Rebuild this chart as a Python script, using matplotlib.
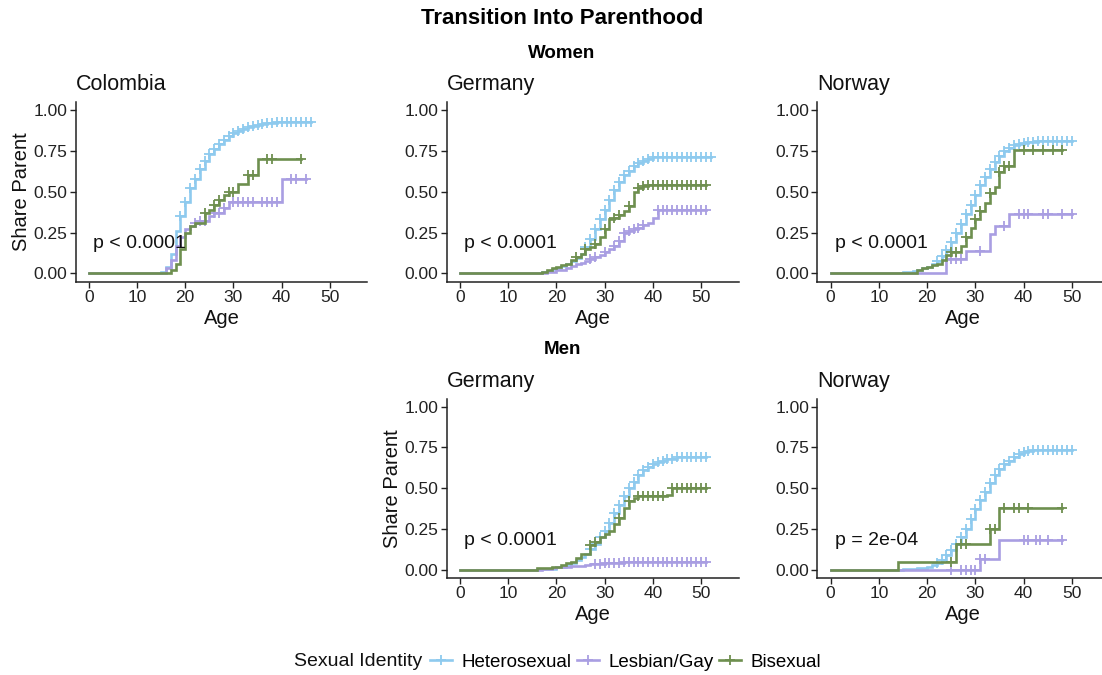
import numpy as np
import matplotlib
matplotlib.use("Agg")
import matplotlib.pyplot as plt
from matplotlib.lines import Line2D

plt.rcParams['font.family'] = ['Liberation Sans', 'DejaVu Sans']

# ---- colours / groups ----
groups = ["Heterosexual", "Lesbian/Gay", "Bisexual"]
colors = {"Heterosexual": "#8ECAEE", "Lesbian/Gay": "#A99EE2", "Bisexual": "#6E8F4F"}

# ---- Women, Colombia ----
col_w_het_t = [15, 16, 17, 18, 19, 20, 21, 22, 23, 24, 25, 26, 27, 28, 29, 30, 31, 32, 33, 34, 35, 36, 37, 39, 41]
col_w_het_v = [0.01, 0.04, 0.12, 0.26, 0.35, 0.44, 0.52, 0.58, 0.64, 0.69, 0.73, 0.76, 0.79, 0.82, 0.84, 0.86,
               0.87, 0.885, 0.895, 0.905, 0.91, 0.915, 0.92, 0.925, 0.93]
col_w_het_c = list(range(19, 47))
col_w_lg_t = [16, 17, 18, 19, 20, 21, 22, 23, 25, 26, 28, 29, 40]
col_w_lg_v = [0.03, 0.08, 0.17, 0.22, 0.27, 0.29, 0.31, 0.32, 0.35, 0.37, 0.40, 0.44, 0.58]
col_w_lg_c = [22, 23, 24, 26, 27, 28, 30, 31, 32, 33, 34, 36, 37, 38, 39, 42, 43, 45]
col_w_bi_t = [17, 18, 19, 20, 21, 22, 24, 25, 26, 27, 28, 29, 31, 33, 35]
col_w_bi_v = [0.02, 0.06, 0.15, 0.25, 0.29, 0.31, 0.37, 0.39, 0.42, 0.45, 0.48, 0.50, 0.55, 0.60, 0.70]
col_w_bi_c = [24, 26, 27, 29, 30, 33, 34, 37, 38, 44]

# ---- Women, Germany ----
ger_w_het_t = [15, 17, 18, 19, 20, 21, 22, 23, 24, 25, 26, 27, 28, 29, 30, 31, 32, 33, 34, 35, 36, 37, 38, 39, 40, 42]
ger_w_het_v = [0.003, 0.008, 0.015, 0.025, 0.035, 0.045, 0.06, 0.075, 0.095, 0.12, 0.16, 0.21, 0.27, 0.33, 0.39,
               0.45, 0.51, 0.56, 0.60, 0.63, 0.655, 0.675, 0.69, 0.70, 0.71, 0.715]
ger_w_het_c = list(range(26, 53))
ger_w_lg_t = [16, 18, 20, 22, 23, 24, 25, 26, 27, 28, 29, 30, 31, 32, 33, 34, 35, 36, 37, 38, 39, 40, 41]
ger_w_lg_v = [0.005, 0.01, 0.02, 0.035, 0.045, 0.055, 0.065, 0.075, 0.09, 0.10, 0.115, 0.13, 0.15, 0.17, 0.20,
              0.245, 0.26, 0.27, 0.28, 0.295, 0.31, 0.34, 0.39]
ger_w_lg_c = [27, 28, 30, 32, 33, 34, 35, 36, 37, 38] + list(range(41, 52))
ger_w_bi_t = [15, 17, 18, 19, 20, 21, 22, 23, 24, 25, 26, 27, 28, 29, 30, 31, 32, 33, 34, 35, 36, 37, 38, 39]
ger_w_bi_v = [0.005, 0.01, 0.02, 0.03, 0.04, 0.05, 0.06, 0.08, 0.10, 0.12, 0.15, 0.16, 0.18, 0.22, 0.27, 0.33,
              0.34, 0.36, 0.38, 0.41, 0.50, 0.52, 0.535, 0.54]
ger_w_bi_c = [24, 26, 28, 30, 32, 33, 35, 37, 38] + list(range(39, 52))

# ---- Women, Norway ----
nor_w_het_t = [14, 15, 16, 17, 18, 19, 20, 21, 22, 23, 24, 25, 26, 27, 28, 29, 30, 31, 32, 33, 34, 35, 36, 37,
               38, 39, 40, 41, 43]
nor_w_het_v = [0.003, 0.006, 0.01, 0.015, 0.02, 0.03, 0.04, 0.055, 0.075, 0.105, 0.145, 0.195, 0.25, 0.305,
               0.365, 0.42, 0.48, 0.54, 0.59, 0.64, 0.68, 0.72, 0.75, 0.77, 0.785, 0.795, 0.80, 0.805, 0.81]
nor_w_het_c = list(range(22, 51))
nor_w_lg_t = [24, 28, 33, 34, 37]
nor_w_lg_v = [0.085, 0.135, 0.24, 0.29, 0.365]
nor_w_lg_c = [25, 26, 27, 31, 36, 39, 40, 41, 44, 45, 48, 50]
nor_w_bi_t = [17, 18, 19, 20, 21, 22, 23, 24, 25, 27, 28, 29, 30, 31, 32, 33, 34, 35, 36, 38]
nor_w_bi_v = [0.005, 0.02, 0.03, 0.04, 0.05, 0.06, 0.08, 0.11, 0.13, 0.17, 0.22, 0.28, 0.33, 0.38, 0.43, 0.49,
              0.53, 0.62, 0.66, 0.755]
nor_w_bi_c = [25, 26, 28, 30, 31, 33, 35, 36, 37, 40, 42, 44, 46, 48]

# ---- Men, Germany ----
ger_m_het_t = [16, 18, 20, 21, 22, 23, 24, 25, 26, 27, 28, 29, 30, 31, 32, 33, 34, 35, 36, 37, 38, 39, 40, 41,
               42, 43, 45]
ger_m_het_v = [0.003, 0.008, 0.015, 0.02, 0.03, 0.04, 0.06, 0.08, 0.10, 0.13, 0.16, 0.20, 0.24, 0.29, 0.35, 0.40,
               0.45, 0.50, 0.54, 0.58, 0.61, 0.63, 0.65, 0.66, 0.67, 0.68, 0.69]
ger_m_het_c = list(range(27, 52))
ger_m_lg_t = [17, 19, 20, 21, 23, 26, 27, 30, 34, 37]
ger_m_lg_v = [0.005, 0.01, 0.015, 0.02, 0.025, 0.03, 0.035, 0.04, 0.045, 0.05]
ger_m_lg_c = list(range(28, 52))
ger_m_bi_t = [16, 19, 21, 22, 23, 24, 25, 27, 28, 29, 30, 31, 32, 33, 34, 35, 36, 37, 43, 44]
ger_m_bi_v = [0.01, 0.02, 0.03, 0.04, 0.05, 0.07, 0.10, 0.15, 0.17, 0.20, 0.22, 0.24, 0.28, 0.32, 0.38, 0.42,
              0.44, 0.45, 0.46, 0.50]
ger_m_bi_c = [27, 28, 33, 35, 37, 38, 39, 40, 41, 42] + list(range(44, 52))

# ---- Men, Norway ----
nor_m_het_t = [15, 18, 20, 21, 22, 23, 24, 25, 26, 27, 28, 29, 30, 31, 32, 33, 34, 35, 36, 37, 38, 39, 40, 41, 42]
nor_m_het_v = [0.003, 0.01, 0.02, 0.03, 0.04, 0.06, 0.09, 0.12, 0.16, 0.20, 0.25, 0.31, 0.37, 0.43, 0.48, 0.53,
               0.58, 0.62, 0.65, 0.67, 0.69, 0.71, 0.72, 0.73, 0.735]
nor_m_het_c = list(range(22, 51))
nor_m_lg_t = [31, 35]
nor_m_lg_v = [0.066, 0.18]
nor_m_lg_c = [25, 27, 28, 29, 30, 31, 32, 40, 41, 42.5, 43.5, 45, 48]
nor_m_bi_t = [14, 26, 33, 35]
nor_m_bi_v = [0.05, 0.16, 0.25, 0.38]
nor_m_bi_c = [25, 27, 28, 33, 34, 36, 38, 39, 41, 48]

p_labels = {"col_w": "p < 0.0001", "ger_w": "p < 0.0001", "nor_w": "p < 0.0001",
            "ger_m": "p < 0.0001", "nor_m": "p = 2e-04"}

panels = [
    ("col_w", "Colombia", 0, 0, True,
     [(col_w_het_t, col_w_het_v, col_w_het_c), (col_w_lg_t, col_w_lg_v, col_w_lg_c), (col_w_bi_t, col_w_bi_v, col_w_bi_c)]),
    ("ger_w", "Germany", 0, 1, False,
     [(ger_w_het_t, ger_w_het_v, ger_w_het_c), (ger_w_lg_t, ger_w_lg_v, ger_w_lg_c), (ger_w_bi_t, ger_w_bi_v, ger_w_bi_c)]),
    ("nor_w", "Norway", 0, 2, False,
     [(nor_w_het_t, nor_w_het_v, nor_w_het_c), (nor_w_lg_t, nor_w_lg_v, nor_w_lg_c), (nor_w_bi_t, nor_w_bi_v, nor_w_bi_c)]),
    ("ger_m", "Germany", 1, 1, True,
     [(ger_m_het_t, ger_m_het_v, ger_m_het_c), (ger_m_lg_t, ger_m_lg_v, ger_m_lg_c), (ger_m_bi_t, ger_m_bi_v, ger_m_bi_c)]),
    ("nor_m", "Norway", 1, 2, False,
     [(nor_m_het_t, nor_m_het_v, nor_m_het_c), (nor_m_lg_t, nor_m_lg_v, nor_m_lg_c), (nor_m_bi_t, nor_m_bi_v, nor_m_bi_c)]),
]

W, H = 1102, 675
fig = plt.figure(figsize=(W / 100, H / 100), dpi=100)

col_left = [75.5, 446.7, 817.4]
ax_w = 291.8
row_top = [102.0, 398.5]
ax_h = 179.5


def draw_curve(ax, times, vals, cens, color):
    times = np.asarray(times, float)
    vals = np.asarray(vals, float)
    cens = np.asarray(cens, float)
    end = cens.max()
    x = np.concatenate([[0.0], times, [end]])
    y = np.concatenate([[0.0], vals, [vals[-1]]])
    ax.step(x, y, where="post", color=color, lw=1.9, solid_joinstyle="miter")
    idx = np.searchsorted(times, cens, side="right") - 1
    cy = np.where(idx >= 0, vals[np.clip(idx, 0, None)], 0.0)
    ax.plot(cens, cy, ls="none", marker="+", ms=7, mew=1.3, color=color)


for key, title, r, c, ylab, series in panels:
    left = col_left[c] / W
    bottom = 1 - (row_top[r] + ax_h) / H
    ax = fig.add_axes([left, bottom, ax_w / W, ax_h / H])
    for g, (t, v, cz) in zip(groups, series):
        draw_curve(ax, t, v, cz, colors[g])
    ax.set_xlim(-2.75, 57.75)
    ax.set_ylim(-0.05, 1.05)
    ax.set_xticks([0, 10, 20, 30, 40, 50])
    ax.set_yticks([0, 0.25, 0.5, 0.75, 1.0])
    ax.set_yticklabels(["0.00", "0.25", "0.50", "0.75", "1.00"])
    for s in ["top", "right"]:
        ax.spines[s].set_visible(False)
    for s in ["left", "bottom"]:
        ax.spines[s].set_linewidth(1.1)
        ax.spines[s].set_color("#222222")
    ax.tick_params(axis="both", labelsize=12.5, length=4, width=1.0, color="#222222",
                   labelcolor="#222222", pad=2)
    ax.set_xlabel("Age", fontsize=14.5, labelpad=3, color="#111111")
    if ylab:
        ax.set_ylabel("Share Parent", fontsize=14.5, labelpad=2, color="#111111")
    ax.annotate(title, xy=(0, 1), xycoords="axes fraction", xytext=(0, 12),
                textcoords="offset pixels", ha="left", va="baseline", fontsize=15.5, color="#111111")
    ax.text(0.8, 0.18, p_labels[key], fontsize=14, ha="left", va="center", color="#111111")

fig.text(562 / W, 1 - 18 / H, "Transition Into Parenthood", ha="center", va="center",
         fontsize=16, fontweight="bold")
fig.text(562 / W, 1 - 53 / H, "Women", ha="center", va="center", fontsize=13.5, fontweight="bold")
fig.text(562 / W, 1 - 350 / H, "Men", ha="center", va="center", fontsize=13.5, fontweight="bold")

# legend
fig.text(294 / W, 1 - 662 / H, "Sexual Identity", ha="left", va="center", fontsize=14, color="#111111")
handles = [Line2D([], [], color=colors[g], lw=1.9, marker="+", ms=7, mew=1.3) for g in groups]
fig.legend(handles, groups, loc="center left", bbox_to_anchor=(430 / W, 1 - 662 / H), ncol=3,
           frameon=False, fontsize=13.5, handlelength=1.17, handletextpad=0.5, columnspacing=0.3,
           borderaxespad=0, borderpad=0)

fig.savefig("out.png", dpi=100, facecolor="white")
